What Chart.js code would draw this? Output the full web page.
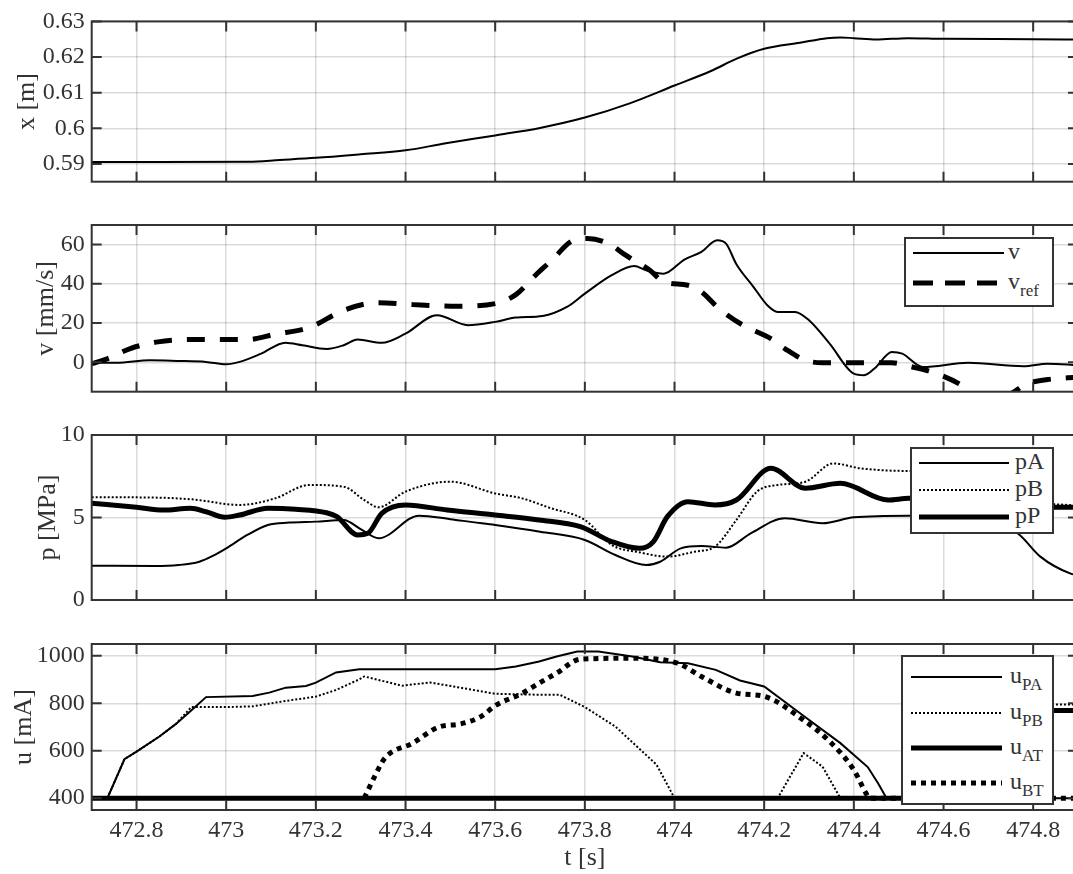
<!DOCTYPE html>
<html>
<head>
<meta charset="utf-8">
<script src="https://cdn.jsdelivr.net/npm/chart.js@4.4.0/dist/chart.umd.min.js"></script>
<style>
body { margin: 0; background: #fff; }
#wrap { position: relative; width: 1073px; height: 874px; overflow: hidden; font-family: "Liberation Serif", "Times New Roman", serif; color: #262626; }
#wrap canvas { position: absolute; left: 0; top: 0; }
.leg { position: absolute; background: #fff; border: 2px solid #333; box-sizing: border-box; }
.row { position: absolute; left: 0; height: 0; width: 100%; }
.row svg { position: absolute; top: -6px; overflow: visible; }
.row span { position: absolute; top: -14px; font-size: 24px; line-height: 24px; white-space: nowrap; color: #333; }
.row sub { font-size: 17px; vertical-align: -7px; line-height: 0; }
</style>
</head>
<body>
<div id="wrap">
    <canvas id="c1" width="1085" height="874"></canvas>
    <canvas id="c2" width="1085" height="874"></canvas>
    <canvas id="c3" width="1085" height="874"></canvas>
    <canvas id="c4" width="1085" height="874"></canvas>

    <div class="leg" style="left:904px;top:237px;width:150px;height:70px;">
        <div class="row" style="top:14px;"><svg width="91" height="12" style="left:7px"><line x1="0" y1="6" x2="91" y2="6" stroke="#000" stroke-width="2"/></svg><span style="left:102px">v</span></div>
        <div class="row" style="top:44px;"><svg width="91" height="12" style="left:7px"><line x1="0" y1="6" x2="91" y2="6" stroke="#000" stroke-width="5" stroke-dasharray="20 12"/></svg><span style="left:102px">v<sub>ref</sub></span></div>
    </div>

    <div class="leg" style="left:910px;top:447px;width:144px;height:87px;">
        <div class="row" style="top:14px;"><svg width="90" height="12" style="left:7px"><line x1="0" y1="6" x2="90" y2="6" stroke="#000" stroke-width="2"/></svg><span style="left:103px">pA</span></div>
        <div class="row" style="top:41px;"><svg width="90" height="12" style="left:7px"><line x1="0" y1="6" x2="90" y2="6" stroke="#000" stroke-width="2" stroke-dasharray="2 2"/></svg><span style="left:103px">pB</span></div>
        <div class="row" style="top:68px;"><svg width="90" height="12" style="left:7px"><line x1="0" y1="6" x2="90" y2="6" stroke="#000" stroke-width="5"/></svg><span style="left:103px">pP</span></div>
    </div>

    <div class="leg" style="left:901px;top:655px;width:153px;height:150px;">
        <div class="row" style="top:20px;"><svg width="91" height="12" style="left:8px"><line x1="0" y1="6" x2="91" y2="6" stroke="#000" stroke-width="2"/></svg><span style="left:107px">u<sub>PA</sub></span></div>
        <div class="row" style="top:56px;"><svg width="91" height="12" style="left:8px"><line x1="0" y1="6" x2="91" y2="6" stroke="#000" stroke-width="2" stroke-dasharray="2 2"/></svg><span style="left:107px">u<sub>PB</sub></span></div>
        <div class="row" style="top:91px;"><svg width="91" height="12" style="left:8px"><line x1="0" y1="6" x2="91" y2="6" stroke="#000" stroke-width="5"/></svg><span style="left:107px">u<sub>AT</sub></span></div>
        <div class="row" style="top:126px;"><svg width="91" height="12" style="left:8px"><line x1="0" y1="6" x2="91" y2="6" stroke="#000" stroke-width="5" stroke-dasharray="5 5"/></svg><span style="left:107px">u<sub>BT</sub></span></div>
    </div>
</div>

<script>
// time axis
var tTicks = [472.8, 473, 473.2, 473.4, 473.6, 473.8, 474, 474.2, 474.4, 474.6, 474.8];

// position x [m]
var tPos = [472.70, 472.85, 473.05, 473.12, 473.20, 473.30, 473.40, 473.49, 473.60, 473.70, 473.80, 473.90, 474.00, 474.08, 474.14, 474.20, 474.28, 474.34, 474.37, 474.40, 474.45, 474.52, 474.60, 474.80, 474.90];
var xPos = [0.5905, 0.5905, 0.5906, 0.5911, 0.5917, 0.5927, 0.5938, 0.5958, 0.5980, 0.6001, 0.6030, 0.6070, 0.6120, 0.6160, 0.6196, 0.6223, 0.6240, 0.6253, 0.6255, 0.6253, 0.6249, 0.6253, 0.6251, 0.6250, 0.6249];
var xTicks = [0.59, 0.6, 0.61, 0.62, 0.63];

// velocity v, v_ref [mm/s]
var tV = [472.70, 472.725, 472.755, 472.83, 472.89, 472.955, 473.00, 473.03, 473.078, 473.132, 473.17, 473.224, 473.262, 473.293, 473.347, 473.40, 473.47, 473.539, 473.60, 473.646, 473.706, 473.76, 473.80, 473.86, 473.91, 473.937, 473.976, 474.022, 474.06, 474.095, 474.115, 474.138, 474.176, 474.207, 474.23, 474.269, 474.30, 474.346, 474.40, 474.423, 474.446, 474.485, 474.508, 474.554, 474.655, 474.778, 474.832, 474.90];
var vMeas = [0.2, -0.2, -0.3, 1.0, 0.7, 0.2, -1.0, 0.2, 4.4, 10.0, 8.7, 6.8, 8.7, 11.6, 9.9, 14.6, 24.0, 18.9, 20.6, 22.8, 23.6, 28.2, 35.0, 44.4, 49.1, 46.9, 45.2, 52.4, 56.3, 62.2, 60.5, 50.0, 38.5, 29.1, 25.7, 25.7, 21.4, 9.5, -5.8, -6.6, -3.2, 5.3, 4.4, -2.4, -0.3, -2.0, -0.7, -1.5];
var tVref = [472.70, 472.736, 472.786, 472.848, 472.924, 473.047, 473.109, 473.185, 473.262, 473.339, 473.416, 473.516, 473.60, 473.646, 473.69, 473.73, 473.768, 473.806, 473.853, 473.891, 473.945, 473.976, 474.03, 474.06, 474.099, 474.153, 474.215, 474.246, 474.292, 474.33, 474.485, 474.523, 474.585, 474.647, 474.67, 474.739, 474.786, 474.832, 474.90];
var vRef = [-0.7, 1.9, 7.0, 10.4, 11.6, 11.6, 14.3, 17.7, 26.5, 30.4, 29.4, 28.6, 29.9, 34.5, 44.4, 52.9, 61.4, 63.1, 60.5, 54.6, 46.9, 41.0, 39.3, 35.9, 27.4, 18.9, 12.1, 7.0, 1.0, -0.2, -0.3, -2.0, -5.8, -12.6, -16.8, -16.8, -10.9, -8.8, -7.6];
var vTicks = [0, 20, 40, 60];

// pressures [MPa]
var tPA = [472.70, 472.84, 472.894, 472.94, 472.97, 473.00, 473.047, 473.093, 473.14, 473.20, 473.262, 473.30, 473.34, 473.43, 473.50, 473.55, 473.60, 473.70, 473.80, 473.868, 473.937, 473.968, 474.014, 474.06, 474.115, 474.17, 474.246, 474.33, 474.40, 474.523, 474.65, 474.72, 474.77, 474.816, 474.885, 474.90];
var pA = [2.08, 2.06, 2.12, 2.32, 2.67, 3.13, 3.94, 4.55, 4.69, 4.75, 4.85, 4.3, 3.74, 5.11, 4.9, 4.72, 4.55, 4.14, 3.64, 2.73, 2.12, 2.32, 3.13, 3.27, 3.17, 4.04, 4.95, 4.65, 5.01, 5.11, 5.1, 4.8, 3.94, 2.63, 1.58, 1.5];
var tPB = [472.70, 472.80, 472.924, 473.03, 473.109, 473.185, 473.262, 473.308, 473.34, 473.40, 473.50, 473.60, 473.66, 473.72, 473.80, 473.86, 473.92, 473.984, 474.045, 474.09, 474.138, 474.184, 474.23, 474.292, 474.354, 474.415, 474.523, 474.65, 474.75, 474.90];
var pB = [6.22, 6.22, 6.10, 5.76, 6.16, 6.97, 6.87, 6.06, 5.62, 6.57, 7.17, 6.46, 6.16, 5.6, 4.85, 3.33, 2.9, 2.63, 2.93, 3.23, 4.85, 6.57, 6.97, 7.17, 8.28, 7.98, 7.82, 7.8, 6.2, 5.7];
var tPP = [472.70, 472.80, 472.86, 472.92, 472.955, 472.997, 473.03, 473.093, 473.155, 473.224, 473.247, 473.293, 473.316, 473.347, 473.40, 473.493, 473.60, 473.698, 473.79, 473.86, 473.922, 473.953, 473.984, 474.03, 474.09, 474.138, 474.215, 474.292, 474.37, 474.477, 474.523, 474.65, 474.848, 474.90];
var pP = [5.86, 5.62, 5.45, 5.56, 5.35, 5.01, 5.15, 5.56, 5.50, 5.29, 5.05, 3.94, 4.04, 5.25, 5.76, 5.45, 5.15, 4.85, 4.44, 3.54, 3.13, 3.54, 5.05, 5.96, 5.76, 6.06, 7.98, 6.77, 7.07, 6.06, 6.16, 6.0, 5.62, 5.62];
var pTicks = [0, 5, 10];

// valve currents [mA]
var tUPA = [472.70, 472.735, 472.773, 472.80, 472.851, 472.888, 472.925, 472.955, 473.059, 473.096, 473.133, 473.178, 473.20, 473.245, 473.297, 473.416, 473.60, 473.646, 473.698, 473.737, 473.783, 473.83, 473.906, 473.968, 474.03, 474.092, 474.146, 474.20, 474.292, 474.37, 474.431, 474.454, 474.473, 474.90];
var uPA = [400, 400, 564, 596, 660, 713, 775, 826, 831, 845, 866, 873, 887, 930, 944, 944, 944, 955, 976, 997, 1018, 1018, 997, 973, 969, 941, 896, 871, 741, 632, 531, 463, 400, 400];
var tUPB = [472.70, 472.735, 472.773, 472.80, 472.851, 472.888, 472.922, 473.0, 473.059, 473.133, 473.20, 473.245, 473.297, 473.308, 473.393, 473.454, 473.516, 473.60, 473.698, 473.744, 473.80, 473.868, 473.96, 474.0, 474.23, 474.288, 474.33, 474.37, 474.62, 474.70, 474.90];
var uPB = [400, 400, 564, 596, 660, 713, 784, 784, 787, 810, 828, 856, 901, 913, 874, 888, 868, 840, 836, 836, 784, 702, 541, 400, 400, 590, 533, 400, 400, 795, 795];
var tUAT = [472.70, 474.68, 474.76, 474.90];
var uAT = [400, 400, 770, 770];
var tUBT = [473.308, 473.331, 473.354, 473.416, 473.477, 473.52, 473.569, 473.60, 473.661, 473.698, 473.737, 473.79, 473.906, 474.007, 474.06, 474.138, 474.20, 474.292, 474.346, 474.40, 474.427, 474.435, 474.90];
var uBT = [400, 491, 569, 632, 702, 712, 745, 790, 843, 885, 927, 986, 990, 969, 913, 843, 829, 723, 639, 519, 421, 400, 400];
var uTicks = [400, 600, 800, 1000];

var W = 1085, H = 874, LEFT = 91.7, RIGHT = 1078, TICK = 10;
var TEXT = "#333";
var GRID = "rgba(0,0,0,0.14)";

Chart.defaults.font.family = "Liberation Serif";
Chart.defaults.font.size = 24;
Chart.defaults.color = TEXT;

function pts(ts, ys) {
    return ts.map(function (t, i) {
        return { x: t, y: ys[i] };
    });
}

function fmt(v) {
    return String(Math.round(v * 1000) / 1000);
}

function font(size) {
    return { family: "Liberation Serif", size: size };
}

var frame = {
    id: "frame",
    afterDraw: function (chart) {
        var ctx = chart.ctx, a = chart.chartArea, x = chart.scales.x, y = chart.scales.y;
        ctx.save();
        ctx.strokeStyle = "#333";
        ctx.lineWidth = 2;
        ctx.beginPath();
        x.ticks.forEach(function (t) {
            var px = x.getPixelForValue(t.value);
            ctx.moveTo(px, a.bottom);
            ctx.lineTo(px, a.bottom - TICK);
            ctx.moveTo(px, a.top);
            ctx.lineTo(px, a.top + TICK);
        });
        y.ticks.forEach(function (t) {
            var py = y.getPixelForValue(t.value);
            ctx.moveTo(a.left, py);
            ctx.lineTo(a.left + TICK, py);
            ctx.moveTo(a.right, py);
            ctx.lineTo(a.right - TICK, py);
        });
        ctx.stroke();
        ctx.strokeRect(a.left, a.top, a.right - a.left, a.bottom - a.top);
        ctx.restore();
    },
};

function line(data, width, dash, smooth) {
    return {
        data: data,
        borderColor: "#000",
        borderWidth: width,
        borderDash: dash || [],
        pointRadius: 0,
        fill: false,
        cubicInterpolationMode: smooth ? "monotone" : "default",
        tension: 0,
    };
}

function panel(id, top, bottom, yMin, yMax, yTicks, yTitle, titlePad, datasets, showX) {
    new Chart(document.getElementById(id), {
        type: "line",
        data: { datasets: datasets },
        plugins: [frame],
        options: {
            responsive: false,
            animation: false,
            devicePixelRatio: 1,
            layout: { padding: { top: top, bottom: showX ? 0 : H - bottom, left: 0, right: W - RIGHT } },
            plugins: { legend: { display: false }, tooltip: { enabled: false } },
            scales: {
                x: {
                    type: "linear",
                    min: 472.7,
                    max: 474.9,
                    afterBuildTicks: function (s) {
                        s.ticks = tTicks.map(function (v) { return { value: v }; });
                    },
                    afterFit: function (s) {
                        s.height = showX ? H - bottom : 0;
                    },
                    grid: { color: GRID, lineWidth: 1.5, drawTicks: false },
                    border: { display: false },
                    ticks: { display: showX, padding: 6, font: font(24), color: TEXT, maxRotation: 0, autoSkip: false, callback: fmt },
                    title: { display: showX, text: "t [s]", font: font(26), color: TEXT, padding: { top: 0, bottom: 0 } },
                },
                y: {
                    min: yMin,
                    max: yMax,
                    afterBuildTicks: function (s) {
                        s.ticks = yTicks.map(function (v) { return { value: v }; });
                    },
                    afterFit: function (s) {
                        s.width = LEFT;
                    },
                    grid: { color: GRID, lineWidth: 1.5, drawTicks: false },
                    border: { display: false },
                    ticks: { padding: 7, font: font(24), color: TEXT, callback: fmt },
                    title: { display: true, text: yTitle, font: font(26), color: TEXT, padding: { top: titlePad, bottom: 0 } },
                },
            },
        },
    });
}

panel("c1", 15, 181.7, 0.585, 0.63, xTicks, "x [m]", 12, [
    line(pts(tPos, xPos), 2, null, true),
], false);

panel("c2", 225, 391.7, -15, 70, vTicks, "v [mm/s]", 31, [
    line(pts(tV, vMeas), 2, null, true),
    line(pts(tVref, vRef), 5, [18, 15], true),
], false);

panel("c3", 435, 600, 0, 10, pTicks, "p [MPa]", 33, [
    line(pts(tPA, pA), 2, null, true),
    line(pts(tPB, pB), 2, [2, 2], true),
    line(pts(tPP, pP), 5, null, true),
], false);

panel("c4", 644, 810, 350, 1050, uTicks, "u [mA]", 9, [
    line(pts(tUPA, uPA), 2, null, false),
    line(pts(tUPB, uPB), 2, [2, 2], false),
    line(pts(tUAT, uAT), 5, null, false),
    line(pts(tUBT, uBT), 5, [5, 5], true),
], true);
</script>
</body>
</html>
